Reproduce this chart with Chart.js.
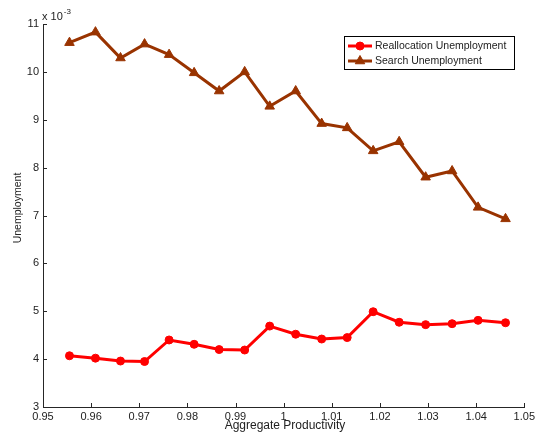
<!DOCTYPE html>
<html>
<head>
<meta charset="utf-8">
<script src="https://cdn.jsdelivr.net/npm/chart.js@4"></script>
<style>
  html, body { margin: 0; padding: 0; background: #fff; }
  #wrap { width: 538px; height: 433px; position: relative; }
</style>
</head>
<body>
<div id="wrap"><canvas id="c" width="538" height="433"></canvas></div>
<script>
// Aggregate productivity (x) values
const productivity = [0.9555, 0.9609, 0.9661, 0.9711, 0.9762, 0.9814, 0.9866, 0.9919, 0.9971,
                      1.0025, 1.0079, 1.0132, 1.0186, 1.0240, 1.0295, 1.0350, 1.0404, 1.0461];
// Unemployment, in units of 10^-3
const reallocation = [4.07, 4.02, 3.96, 3.95, 4.40, 4.31, 4.20, 4.19, 4.69,
                      4.52, 4.42, 4.45, 4.99, 4.77, 4.72, 4.74, 4.81, 4.76];
const search = [10.61, 10.83, 10.29, 10.58, 10.36, 9.98, 9.60, 10.00, 9.28,
                9.60, 8.92, 8.83, 8.35, 8.54, 7.80, 7.93, 7.17, 6.93];
const seriesNames = ['Reallocation Unemployment', 'Search Unemployment'];
const xTitle = 'Aggregate Productivity';
const yTitle = 'Unemployment';
const yExponent = '-3';

const RED = '#ff0000';
const BROWN = '#993300';
const AXIS = '#262626';
const FONT = '"Liberation Sans", Arial, Helvetica, sans-serif';

function pts(xs, ys) { return xs.map((x, i) => ({ x: x, y: ys[i] })); }

const decor = {
  id: 'decor',
  afterDraw(chart) {
    const ctx = chart.ctx;
    const xs = chart.scales.x, ys = chart.scales.y;
    const a = chart.chartArea;
    ctx.save();
    // inward ticks
    ctx.strokeStyle = AXIS;
    ctx.lineWidth = 1;
    ctx.beginPath();
    xs.ticks.forEach(t => {
      const px = Math.round(xs.getPixelForValue(t.value)) + 0.5;
      ctx.moveTo(px, a.bottom);
      ctx.lineTo(px, a.bottom - 4);
    });
    ys.ticks.forEach(t => {
      const py = Math.round(ys.getPixelForValue(t.value)) + 0.5;
      ctx.moveTo(a.left, py);
      ctx.lineTo(a.left + 4, py);
    });
    ctx.stroke();

    // exponent label
    ctx.fillStyle = '#222';
    ctx.textBaseline = 'alphabetic';
    ctx.textAlign = 'left';
    ctx.font = '11px ' + FONT;
    ctx.fillText('x 10', a.left - 1, 20);
    const w = ctx.measureText('x 10').width;
    ctx.font = '8px ' + FONT;
    ctx.fillText(yExponent, a.left - 1 + w + 1, 14);

    // axis titles
    ctx.font = '12px ' + FONT;
    ctx.textAlign = 'center';
    ctx.textBaseline = 'middle';
    ctx.fillText(xTitle, 285, 426);
    ctx.save();
    ctx.font = '10.5px ' + FONT;
    ctx.translate(18, 208);
    ctx.rotate(-Math.PI / 2);
    ctx.fillText(yTitle, 0, 0);
    ctx.restore();

    // legend
    const lx = 344.5, ly = 36.5, lw = 170, lh = 33;
    ctx.fillStyle = '#fff';
    ctx.fillRect(lx, ly, lw, lh);
    ctx.strokeStyle = '#000';
    ctx.lineWidth = 1;
    ctx.strokeRect(lx, ly, lw, lh);
    const rows = [
      { name: seriesNames[0], color: RED, style: 'circle', y: 46 },
      { name: seriesNames[1], color: BROWN, style: 'triangle', y: 61 }
    ];
    rows.forEach(r => {
      ctx.strokeStyle = r.color;
      ctx.lineWidth = 3;
      ctx.beginPath();
      ctx.moveTo(348, r.y);
      ctx.lineTo(372, r.y);
      ctx.stroke();
      ctx.fillStyle = r.color;
      ctx.lineWidth = 1;
      Chart.helpers.drawPoint(ctx, { pointStyle: r.style, radius: r.style === 'circle' ? 4 : 5.5, borderWidth: 1, rotation: 0 }, 360, r.y);
      ctx.fillStyle = '#222';
      ctx.font = '10.5px ' + FONT;
      ctx.textAlign = 'left';
      ctx.textBaseline = 'middle';
      ctx.fillText(r.name, 375, r.y);
    });
    ctx.restore();
  }
};

new Chart(document.getElementById('c'), {
  type: 'line',
  data: {
    datasets: [
      {
        label: seriesNames[0],
        data: pts(productivity, reallocation),
        borderColor: RED,
        backgroundColor: RED,
        borderWidth: 3,
        pointStyle: 'circle',
        pointRadius: 4,
        pointBorderWidth: 1,
        tension: 0,
        fill: false
      },
      {
        label: seriesNames[1],
        data: pts(productivity, search),
        borderColor: BROWN,
        backgroundColor: BROWN,
        borderWidth: 3,
        pointStyle: 'triangle',
        pointRadius: 5.5,
        pointBorderWidth: 1,
        tension: 0,
        fill: false
      }
    ]
  },
  options: {
    responsive: false,
    animation: false,
    devicePixelRatio: 1,
    layout: { padding: { left: 0, right: 11, top: 24, bottom: 0 } },
    plugins: { legend: { display: false }, tooltip: { enabled: false } },
    scales: {
      x: {
        type: 'linear',
        min: 0.95, max: 1.05,
        afterFit: s => { s.height = 26; },
        grid: { display: false, drawTicks: false },
        border: { display: true, color: AXIS, width: 1 },
        ticks: {
          stepSize: 0.01,
          padding: 3,
          color: '#222',
          font: { family: FONT, size: 11 },
          maxRotation: 0,
          autoSkip: false,
          callback: v => String(parseFloat(v.toFixed(2)))
        }
      },
      y: {
        min: 3, max: 11,
        afterFit: s => { s.width = 43; },
        grid: { display: false, drawTicks: false },
        border: { display: true, color: AXIS, width: 1 },
        ticks: {
          stepSize: 1,
          padding: 4,
          color: '#222',
          font: { family: FONT, size: 11 },
          callback: v => String(v)
        }
      }
    }
  },
  plugins: [decor]
});
</script>
</body>
</html>
